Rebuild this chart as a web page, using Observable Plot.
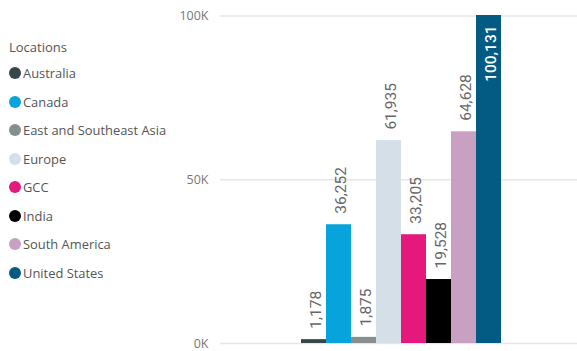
<!DOCTYPE html>
<html>
<head>
<meta charset="utf-8">
<script src="https://cdn.jsdelivr.net/npm/d3@7"></script>
<script src="https://cdn.jsdelivr.net/npm/@observablehq/plot@0.6"></script>
<style>
  html, body { margin: 0; padding: 0; background: #fff; }
  #wrap { position: relative; width: 577px; height: 351px; }
  #legend { position: absolute; left: 9px; top: 38px; font-family: "Open Sans", sans-serif; color: #555; }
  #legend .title { font-size: 13px; color: #555; margin-bottom: 3px; }
  #legend .item { display: flex; align-items: center; height: 28.5px; font-size: 12.9px; color: #555; }
  #legend .dot { width: 12px; height: 12px; border-radius: 50%; margin-right: 2px; }
  #chart { position: absolute; left: 0; top: 0; }
</style>
</head>
<body>
<div id="wrap">
  <div id="chart"></div>
  <div id="legend"></div>
</div>
<script>
const locations = ["Australia", "Canada", "East and Southeast Asia", "Europe", "GCC", "India", "South America", "United States"];
const values = [1178, 36252, 1875, 61935, 33205, 19528, 64628, 100131];
const colors = ["#374649", "#07a3dc", "#868e8e", "#d5dfe8", "#e4197b", "#000000", "#c8a0c2", "#035b84"];
const yTicks = [0, 50000, 100000];
const legendTitle = "Locations";

const data = locations.map((loc, i) => ({location: loc, value: values[i]}));
const fmt = d3.format(",");
const maxVal = d3.max(values);

const chart = Plot.plot({
  width: 577,
  height: 351,
  marginLeft: 220,
  marginRight: 0,
  marginTop: 15,
  marginBottom: 8,
  style: {fontFamily: "Open Sans, sans-serif", background: "#fff"},
  x: {domain: locations, range: [300, 501], paddingInner: 0, paddingOuter: 0, axis: null},
  y: {domain: [0, 100131], ticks: yTicks, axis: null},
  color: {domain: locations, range: colors},
  marks: [
    Plot.ruleY(yTicks, {y: d => d, stroke: "#e6e6e6", strokeWidth: 1.5}),
    Plot.text(yTicks, {y: d => d, frameAnchor: "left", dx: -12, text: d => `${d / 1000}K`, textAnchor: "end", fill: "#777", fontSize: 12.5}),
    Plot.barY(data, {x: "location", y: "value", fill: "location"}),
    Plot.text(data.filter(d => d.value !== maxVal), {
      x: "location", y: "value", text: d => fmt(d.value), rotate: -90,
      textAnchor: "start", dy: -11, dx: 2, fill: "#666", fontSize: 15.5, fontFamily: "Roboto, sans-serif"
    }),
    Plot.text(data.filter(d => d.value === maxVal), {
      x: "location", y: "value", text: d => fmt(d.value), rotate: -90,
      textAnchor: "end", dy: 10, dx: 2, fill: "#fff", fontSize: 15.5, fontWeight: 500, fontFamily: "Roboto, sans-serif"
    })
  ]
});
document.getElementById("chart").appendChild(chart);

const legend = document.getElementById("legend");
const t = document.createElement("div");
t.className = "title";
t.textContent = legendTitle;
legend.appendChild(t);
locations.forEach((loc, i) => {
  const item = document.createElement("div");
  item.className = "item";
  const dot = document.createElement("span");
  dot.className = "dot";
  dot.style.background = colors[i];
  const lab = document.createElement("span");
  lab.textContent = loc;
  item.appendChild(dot);
  item.appendChild(lab);
  legend.appendChild(item);
});
</script>
</body>
</html>
